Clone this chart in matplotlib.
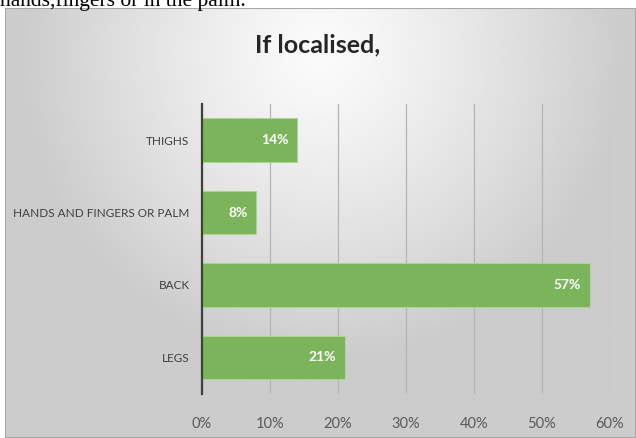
import numpy as np
import matplotlib
matplotlib.use("Agg")
import matplotlib.pyplot as plt
from matplotlib.patches import Rectangle
from matplotlib.ticker import FuncFormatter

categories = ["LEGS", "BACK", "HANDS AND FINGERS OR PALM", "THIGHS"]
values = [21, 57, 8, 14]
xticks = [0, 10, 20, 30, 40, 50, 60]

FONT = "Lato"

W, H = 636, 438
fig = plt.figure(figsize=(W / 100, H / 100), dpi=100)
fig.patch.set_facecolor("white")

# soft gray panel with a light spot near the top centre
bg = fig.add_axes([5 / W, 0, 1 - 5 / W, 1 - 8 / H])
bg.set_axis_off()
yy, xx = np.mgrid[0:200, 0:300]
cx, cy = 150, 20
d = np.sqrt(((xx - cx) / 260) ** 2 + ((yy - cy) / 260) ** 2)
shade = np.clip(0.985 - 0.38 * d ** 1.2, 0.80, 1.0)
bg.imshow(shade, cmap="gray", vmin=0, vmax=1, aspect="auto",
          extent=[0, 1, 0, 1], origin="upper", interpolation="bilinear")
bg.add_patch(Rectangle((0, 0), 1, 1, transform=bg.transAxes, fill=False,
                       edgecolor="#a8a8a8", linewidth=1.5))
bg.set_xlim(0, 1)
bg.set_ylim(0, 1)

# caption line from the surrounding text, cut off at the top edge
fig.text(0.0, 1 - 6 / H, "hands,fingers or in the palm.", family="Liberation Serif",
         fontsize=15.5, color="black", ha="left", va="baseline")

ax = fig.add_axes([202 / W, (H - 393.5) / H, (610 - 202) / W, (393.5 - 104) / H])
ax.patch.set_alpha(0)
y = np.arange(len(categories))
ax.barh(y, values, height=0.6, color="#7cb45c", edgecolor="#a9d68c",
        linewidth=0.8, zorder=3)
for yi, v in zip(y, values):
    ax.text(v - 1.3, yi, f"{v}%", color="white", fontweight="bold",
            family=FONT, fontsize=10, ha="right", va="center", zorder=4)

ax.set_xlim(0, 60)
ax.set_ylim(-0.5, 3.5)
ax.set_xticks(xticks)
ax.xaxis.set_major_formatter(FuncFormatter(lambda v, p: f"{v:.0f}%"))
ax.set_yticks(y)
ax.set_yticklabels(categories)
ax.grid(axis="x", color="#b4b4b4", linewidth=0.9, zorder=1)
for s in ["top", "right", "bottom"]:
    ax.spines[s].set_visible(False)
ax.spines["left"].set_color("#404040")
ax.spines["left"].set_linewidth(1.6)
ax.spines["left"].set_zorder(5)
ax.tick_params(axis="y", length=0, pad=9, labelsize=8.5, labelcolor="#404040")
ax.tick_params(axis="x", length=0, pad=17, labelsize=10.5, labelcolor="#595959")
for lab in ax.get_xticklabels() + ax.get_yticklabels():
    lab.set_family(FONT)

fig.text(318 / W, 1 - 45 / H, "If localised,", family=FONT, fontweight="bold",
         fontsize=18, color="#262626", ha="center", va="center")

fig.savefig("out.png", dpi=100)
